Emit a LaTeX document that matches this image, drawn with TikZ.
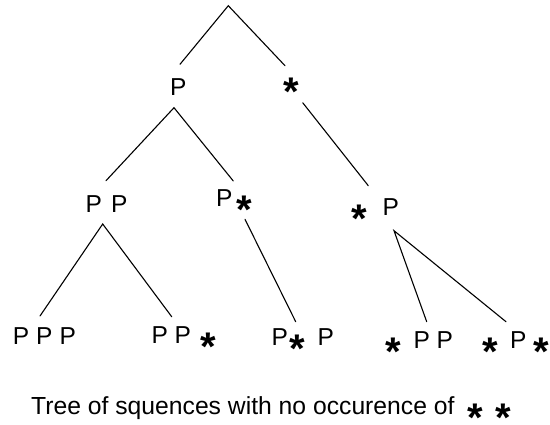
\documentclass[tikz,border=0pt]{standalone}
\usepackage{fontspec}
\setmainfont{Liberation Sans}
\newcommand\Pg{\makebox[15pt]{P}}
\newcommand\St{\makebox[15pt]{\raisebox{-17pt}[12pt][2pt]{\fontsize{40}{40}\bfseries *}}}
\tikzset{
  lbl/.style={anchor=base west, inner sep=0pt, font=\fontsize{24.5}{24.5}\selectfont},
  captxt/.style={anchor=base west, inner sep=0pt, font=\fontsize{24.7}{24.7}\selectfont},
  edge/.style={line width=1.1pt, line cap=round}
}
\begin{document}
\begin{tikzpicture}[x=1pt,y=-1pt]
\useasboundingbox (0,0) rectangle (550,424);
% labels
\node[lbl] (n1) at (170.5,95) {\Pg};
\node[lbl] (n2) at (284,88) {\St};
\node[lbl] (n3) at (86,212) {\Pg\hspace{10.5pt}\Pg};
\node[lbl] (n4) at (216.7,206.7) {\Pg\hspace{5.3pt}\St};
\node[lbl] (n5) at (352,215) {\St\hspace{16pt}\Pg};
\node[lbl] (n6) at (13.3,344) {\Pg\hspace{8.4pt}\Pg\hspace{8.3pt}\Pg};
\node[lbl] (n7) at (152,343) {\Pg\hspace{8pt}\Pg\hspace{10.7pt}\St};
\node[lbl] (n8) at (272,345) {\Pg\hspace{3pt}\St\hspace{13pt}\Pg};
\node[lbl] (n9) at (386,348) {\St\hspace{13pt}\Pg\hspace{8pt}\Pg};
\node[lbl] (n10) at (482.5,348) {\St\hspace{13pt}\Pg\hspace{8pt}\St};
\node[captxt] (cap) at (31,414) {Tree of squences with no occurence of\hspace{13pt}\St\hspace{13pt}\St};
% connector points
\coordinate (root) at (228.3,5.7);
\coordinate (r1) at (180,64.3);
\coordinate (r2) at (285,65.7);
\coordinate (pa) at (174,107.7);
\coordinate (pa1) at (106,180.7);
\coordinate (pa2) at (233.3,181);
\coordinate (sa) at (302.7,102.7);
\coordinate (sa1) at (368.3,185.7);
\coordinate (ppa) at (102.7,224);
\coordinate (ppa1) at (40,316);
\coordinate (ppa2) at (171.7,316.7);
\coordinate (psa) at (245,219.3);
\coordinate (psa1) at (295.7,321.7);
\coordinate (spa) at (394,230.7);
\coordinate (spa1) at (426.7,321.7);
\coordinate (spa2) at (506,321.7);
% connectors
\draw[edge] (r1) -- (root) -- (r2);
\draw[edge] (pa1) -- (pa) -- (pa2);
\draw[edge] (sa) -- (sa1);
\draw[edge] (ppa1) -- (ppa) -- (ppa2);
\draw[edge] (psa) -- (psa1);
\draw[edge] (spa1) -- (spa) -- (spa2);
\end{tikzpicture}
\end{document}
